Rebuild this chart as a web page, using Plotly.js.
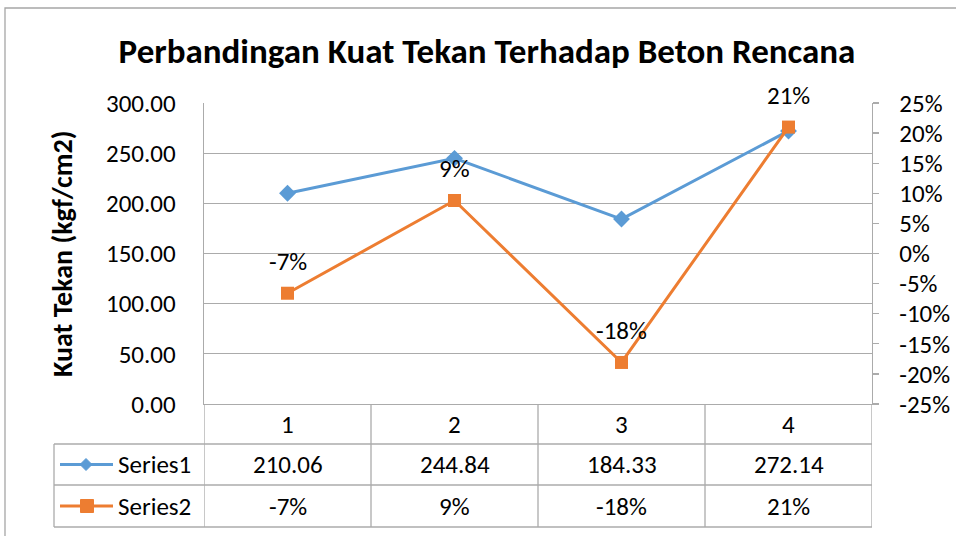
<!DOCTYPE html>
<html><head><meta charset="utf-8">
<script src="https://cdn.plot.ly/plotly-3.0.1.min.js"></script>
<style>body{margin:0;padding:0;background:#fff}#c{width:956px;height:536px}</style>
</head><body><div id="c"></div>
<script>
const categories = [1, 2, 3, 4];
const series1Name = "Series1";
const series2Name = "Series2";
const series1 = [210.06, 244.84, 184.33, 272.14];
const series2 = [-0.066, 0.088, -0.181, 0.21];
const series1Text = ["210.06", "244.84", "184.33", "272.14"];
const series2Text = ["-7%", "9%", "-18%", "21%"];
const leftTicks = [0, 50, 100, 150, 200, 250, 300];
const leftTickLabels = ["0.00", "50.00", "100.00", "150.00", "200.00", "250.00", "300.00"];
const rightTicks = [-0.25, -0.2, -0.15, -0.1, -0.05, 0, 0.05, 0.1, 0.15, 0.2, 0.25];
const rightTickLabels = ["-25%", "-20%", "-15%", "-10%", "-5%", "0%", "5%", "10%", "15%", "20%", "25%"];

const W = 956, H = 536;
const L = 204, R = 872, T = 103, B = 404;
const px = v => (v - L) / (R - L);
const py = v => (B - v) / (B - T);
const FONT = "Carlito, Calibri, 'Liberation Sans Narrow', 'Open Sans', sans-serif";
const GRID = "#ababab";
const BLUE = "#5b9bd5", ORANGE = "#ed7d31";
const FS = 25;

const traces = [
  {x: categories, y: series1, type: "scatter", mode: "lines+markers", name: series1Name,
   line: {color: BLUE, width: 3}, marker: {symbol: "diamond", size: 13, color: BLUE}, yaxis: "y"},
  {x: categories, y: series2, type: "scatter", mode: "lines+markers", name: series2Name,
   line: {color: ORANGE, width: 3}, marker: {symbol: "square", size: 13, color: ORANGE}, yaxis: "y2"}
];

const shapes = [];
const annotations = [];
const line = (x0, y0, x1, y1, color, w) => shapes.push({type: "line", xref: "paper", yref: "paper",
  x0: px(x0), y0: py(y0), x1: px(x1), y1: py(y1), line: {color: color, width: w}});
// outer chart border
shapes.push({type: "rect", xref: "paper", yref: "paper", x0: px(5), y0: py(8), x1: px(1100), y1: py(700),
  line: {color: "#a6a6a6", width: 1.3}, fillcolor: "rgba(0,0,0,0)"});
// data table
const rowY = [404, 444, 485, 527];
for (let i = 1; i < rowY.length; i++) line(54, rowY[i], R, rowY[i], GRID, 1.3);
line(54, 444, 54, 527, GRID, 1.3);
for (let k = 0; k <= categories.length; k++) {
  shapes.push({type: "line", xref: "x", yref: "paper", x0: k + 0.5, x1: k + 0.5, y0: py(404), y1: py(527),
    line: {color: GRID, width: 1.3}});
}
// legend keys
const keyY = [(444 + 485) / 2, (485 + 527) / 2];
line(60, keyY[0], 113, keyY[0], BLUE, 3);
line(60, keyY[1], 113, keyY[1], ORANGE, 3);
const d = 6;
shapes.push({type: "path", xref: "paper", yref: "paper", fillcolor: BLUE, line: {color: BLUE, width: 1},
  path: `M${px(86 - d)},${py(keyY[0])} L${px(86)},${py(keyY[0] - d)} L${px(86 + d)},${py(keyY[0])} L${px(86)},${py(keyY[0] + d)} Z`});
const s = 6.5;
shapes.push({type: "rect", xref: "paper", yref: "paper", fillcolor: ORANGE, line: {color: ORANGE, width: 1},
  x0: px(87 - s), x1: px(87 + s), y0: py(keyY[1] - s), y1: py(keyY[1] + s)});

const tf = {family: FONT, size: FS, color: "#000"};
annotations.push({xref: "paper", yref: "paper", x: px(116), y: py(keyY[0]), xanchor: "left", yanchor: "middle",
  text: series1Name, showarrow: false, font: tf});
annotations.push({xref: "paper", yref: "paper", x: px(116), y: py(keyY[1]), xanchor: "left", yanchor: "middle",
  text: series2Name, showarrow: false, font: tf});
categories.forEach((c, i) => {
  annotations.push({xref: "x", yref: "paper", x: c, y: py(424), text: String(c), showarrow: false, font: tf, yanchor: "middle"});
  annotations.push({xref: "x", yref: "paper", x: c, y: py(keyY[0]), text: series1Text[i], showarrow: false, font: tf, yanchor: "middle"});
  annotations.push({xref: "x", yref: "paper", x: c, y: py(keyY[1]), text: series2Text[i], showarrow: false, font: tf, yanchor: "middle"});
  annotations.push({xref: "x", yref: "y2", x: c, y: series2[i], yshift: 32, text: series2Text[i], showarrow: false, font: tf, yanchor: "middle"});
});
// y axis title
annotations.push({xref: "paper", yref: "paper", x: px(62), y: py(254), textangle: -90, xanchor: "center", yanchor: "middle",
  text: "<b>Kuat Tekan (kgf/cm2)</b>", showarrow: false, font: {family: FONT, size: 28, color: "#000"}});

const layout = {
  width: W, height: H,
  margin: {l: L, r: W - R, t: T, b: H - B, pad: 0},
  paper_bgcolor: "#fff", plot_bgcolor: "#fff",
  showlegend: false,
  title: {text: "<b>Perbandingan Kuat Tekan Terhadap Beton Rencana</b>", font: {family: FONT, size: 35, color: "#000"},
    x: 487 / W, xanchor: "center", y: 1 - 51 / H, yanchor: "middle"},
  xaxis: {range: [0.5, 4.5], showticklabels: false, showgrid: false, zeroline: false,
    showline: true, linecolor: GRID, linewidth: 1.3, ticks: ""},
  yaxis: {range: [0, 300], tickvals: leftTicks, ticktext: leftTickLabels, showgrid: true, gridcolor: GRID, gridwidth: 1.3,
    zeroline: false, showline: true, linecolor: GRID, linewidth: 1.3, ticks: "", ticklabelstandoff: 22,
    tickfont: tf},
  yaxis2: {range: [-0.25, 0.25], tickvals: rightTicks, ticktext: rightTickLabels, overlaying: "y", side: "right",
    showgrid: false, zeroline: false, showline: true, linecolor: GRID, linewidth: 1.3,
    ticks: "outside", ticklen: 6, tickcolor: GRID, tickwidth: 1.3, tickfont: tf, ticklabelstandoff: 15},
  shapes: shapes, annotations: annotations
};
Plotly.newPlot("c", traces, layout, {displayModeBar: false, staticPlot: true});
</script></body></html>
